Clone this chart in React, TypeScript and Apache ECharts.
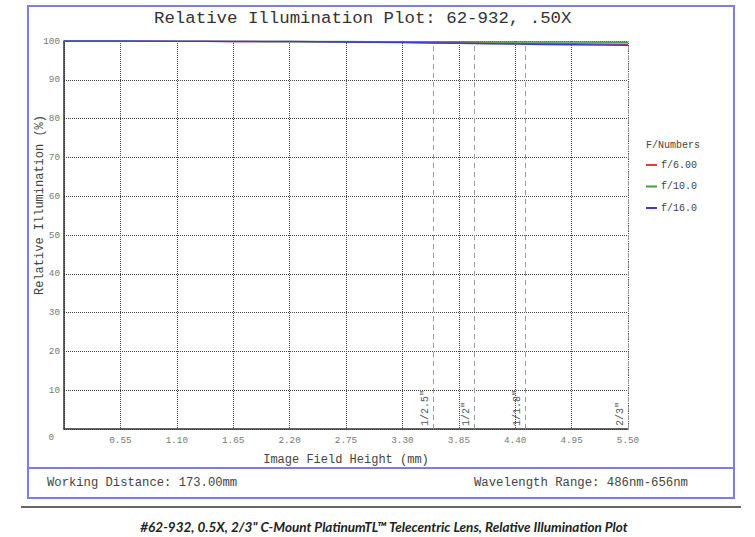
import React, { useEffect, useRef } from "react";
import * as echarts from "echarts";

const fieldHeights = [0, 0.55, 1.1, 1.65, 2.2, 2.75, 3.3, 3.85, 4.4, 4.95, 5.5];
const f6 = [100, 100, 99.95, 99.9, 99.85, 99.75, 99.65, 99.55, 99.4, 99.3, 99.15];
const f10 = [100, 99.98, 99.95, 99.92, 99.88, 99.85, 99.8, 99.78, 99.75, 99.72, 99.7];
const f16 = [100, 99.98, 99.95, 99.9, 99.85, 99.75, 99.6, 99.4, 99.2, 99.05, 98.9];
const seriesNames = ["f/6.00", "f/10.0", "f/16.0"];
const seriesColors = ["#e83838", "#3f9f3f", "#3838e8"];
const sensorNames = ['1/2.5"', '1/2"', '1/1.8"', '2/3"'];
const sensorHalfDiag = [3.6, 4.0, 4.5, 5.5];

const MONO = "'Liberation Mono', 'DejaVu Sans Mono', monospace";

export default function App() {
  const ref = useRef<HTMLDivElement>(null);
  useEffect(() => {
    if (!ref.current) return;
    const chart = echarts.init(ref.current, undefined, { renderer: "svg" });
    const seriesData = [f6, f10, f16];
    const series: any[] = seriesData.map((vals, i) => ({
      name: seriesNames[i],
      type: "line",
      data: fieldHeights.map((x, j) => [x, vals[j]]),
      showSymbol: false,
      smooth: true,
      lineStyle: { color: seriesColors[i], width: 1.5 },
      itemStyle: { color: seriesColors[i] },
      z: 5,
    }));
    series.push({
      name: "sensors",
      type: "line",
      data: [],
      markLine: {
        silent: true,
        symbol: "none",
        animation: false,
        lineStyle: { color: "#9a9a9a", type: [5, 4], width: 1 },
        label: {
          show: true,
          position: "insideStartTop",
          formatter: (p: any) => p.name,
          fontFamily: MONO,
          fontSize: 10,
          color: "#555",
          distance: 3,
        },
        data: sensorHalfDiag.map((x, i) => [
          { coord: [x, 0], name: sensorNames[i] },
          { coord: [x, 100] },
        ]),
      },
    });

    chart.setOption({
      animation: false,
      title: {
        text: "Relative Illumination Plot: 62-932, .50X",
        left: 154,
        top: 10,
        padding: 0,
        textStyle: { fontFamily: MONO, fontSize: 17.4, fontWeight: "normal", color: "#333" },
      },
      legend: {
        data: seriesNames,
        orient: "vertical",
        left: 646,
        top: 160,
        itemWidth: 11,
        itemHeight: 2,
        itemGap: 11.5,
        icon: "rect",
        padding: 0,
        textStyle: { fontFamily: MONO, fontSize: 10, color: "#444", padding: [0, 0, 0, -1] },
      },
      grid: { left: 64, right: 127, top: 41, bottom: 108 },
      xAxis: {
        type: "value",
        min: 0,
        max: 5.5,
        interval: 0.55,
        name: "Image Field Height (mm)",
        nameLocation: "middle",
        nameGap: 25,
        nameTextStyle: { fontFamily: MONO, fontSize: 12, color: "#444" },
        axisLine: { show: true, lineStyle: { color: "#333", width: 1.5 } },
        axisTick: { show: false },
        axisLabel: {
          margin: 7,
          fontFamily: MONO,
          fontSize: 9.3,
          color: "#777",
          formatter: (v: number) => (v === 0 ? "" : v.toFixed(2)),
        },
        splitLine: { show: true, lineStyle: { color: "#444", type: [1, 1], width: 1 } },
      },
      yAxis: {
        type: "value",
        min: 0,
        max: 100,
        interval: 10,
        axisLine: { show: true, lineStyle: { color: "#333", width: 1.5 } },
        axisTick: { show: false },
        axisLabel: {
          margin: 4,
          fontFamily: MONO,
          fontSize: 9.3,
          color: "#777",
          formatter: (v: number) => (v === 0 ? "{z|0}" : String(v)),
          rich: { z: { fontFamily: MONO, fontSize: 9.3, color: "#777", padding: [16, 6, 0, 0] } },
        },
        splitLine: { show: true, lineStyle: { color: "#444", type: [1, 1], width: 1 } },
      },
      series,
      graphic: [
        {
          type: "rect",
          shape: { x: 28, y: 6, width: 706, height: 492 },
          style: { fill: "none", stroke: "#7c7cf0", lineWidth: 2 },
          silent: true,
        },
        {
          type: "line",
          shape: { x1: 28, y1: 468, x2: 734, y2: 468 },
          style: { stroke: "#7c7cf0", lineWidth: 2 },
          silent: true,
        },
        {
          type: "line",
          shape: { x1: 21, y1: 507, x2: 741, y2: 507 },
          style: { stroke: "#333", lineWidth: 1.5 },
          silent: true,
        },
        {
          type: "text",
          x: 40,
          y: 205,
          rotation: Math.PI / 2,
          style: {
            text: "Relative Illumination (%)",
            font: `12px ${MONO}`,
            fill: "#444",
            align: "center",
            verticalAlign: "middle",
          },
          silent: true,
        },
        {
          type: "text",
          x: 646,
          y: 145,
          style: {
            text: "F/Numbers",
            font: `10px ${MONO}`,
            fill: "#444",
            align: "left",
            verticalAlign: "middle",
          },
          silent: true,
        },
        {
          type: "text",
          x: 47,
          y: 483,
          style: {
            text: "Working Distance: 173.00mm",
            font: `12.2px ${MONO}`,
            fill: "#444",
            align: "left",
            verticalAlign: "middle",
          },
          silent: true,
        },
        {
          type: "text",
          x: 688,
          y: 483,
          style: {
            text: "Wavelength Range: 486nm-656nm",
            font: `12.3px ${MONO}`,
            fill: "#444",
            align: "right",
            verticalAlign: "middle",
          },
          silent: true,
        },
        {
          type: "text",
          x: 384,
          y: 527,
          style: {
            text: '#62-932, 0.5X, 2/3" C-Mount PlatinumTL™ Telecentric Lens, Relative Illumination Plot',
            font: "italic bold 13.5px Lato, 'Noto Sans', sans-serif",
            fill: "#222",
            align: "center",
            verticalAlign: "middle",
          },
          silent: true,
        },
      ],
    });
    return () => chart.dispose();
  }, []);
  return (
    <div
      ref={ref}
      style={{ position: "fixed", left: 0, top: 0, width: 755, height: 537, background: "#fff" }}
    />
  );
}
